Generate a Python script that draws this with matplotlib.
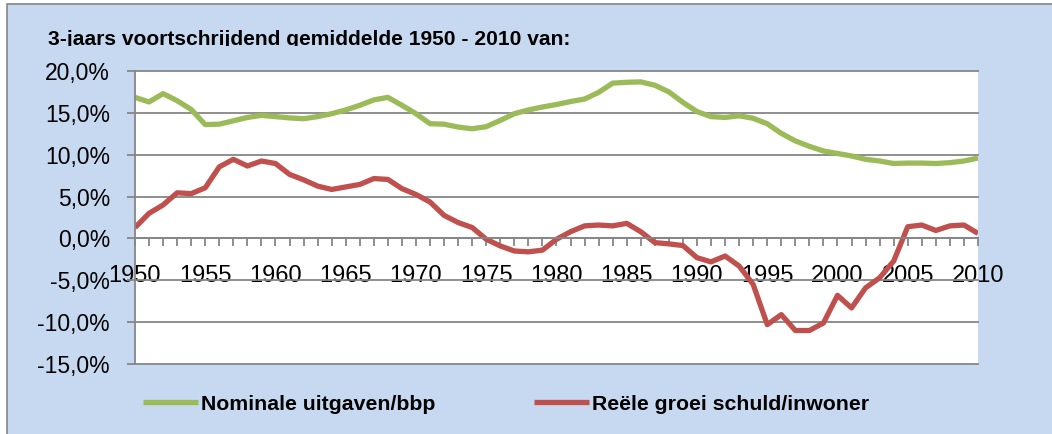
import matplotlib
matplotlib.use("Agg")
from matplotlib import pyplot as plt
from matplotlib.patches import Rectangle
from matplotlib.ticker import MultipleLocator, FuncFormatter

BG_COLOUR = "#C6D9F0"
GRID_COLOUR = "#868686"
GREEN = "#9BBB59"
RED = "#C0504D"

W, H = 1052, 434

years = list(range(1950, 2011))

nominale_uitgaven = [
    16.85, 16.3, 17.3, 16.45, 15.4, 13.6, 13.65, 14.05, 14.45, 14.7,
    14.55, 14.4, 14.3, 14.55, 14.9, 15.35, 15.9, 16.55, 16.85, 15.9,
    14.9, 13.7, 13.65, 13.3, 13.1, 13.35, 14.1, 14.9, 15.35, 15.7,
    16.0, 16.35, 16.65, 17.45, 18.55, 18.65, 18.7, 18.3, 17.5, 16.25,
    15.15, 14.55, 14.45, 14.65, 14.35, 13.7, 12.55, 11.65, 11.0, 10.45,
    10.15, 9.85, 9.45, 9.25, 8.95, 9.0, 9.0, 8.95, 9.05, 9.25,
    9.6,
]

reele_groei_schuld = [
    1.3, 3.0, 4.0, 5.45, 5.35, 6.05, 8.55, 9.45, 8.65, 9.25,
    8.95, 7.65, 7.0, 6.25, 5.85, 6.15, 6.45, 7.15, 7.05, 5.95,
    5.25, 4.35, 2.75, 1.9, 1.3, -0.1, -0.9, -1.5, -1.6, -1.4,
    -0.1, 0.8, 1.5, 1.6, 1.5, 1.8, 0.8, -0.5, -0.65, -0.85,
    -2.3, -2.8, -2.1, -3.3, -5.5, -10.3, -9.1, -11.0, -11.0, -10.1,
    -6.8, -8.3, -5.9, -4.7, -2.7, 1.4, 1.6, 0.95, 1.5, 1.6,
    0.6,
]

labels = ["Nominale uitgaven/bbp", "Reële groei schuld/inwoner"]
title = "3-jaars voortschrijdend gemiddelde 1950 - 2010 van:"

plt.rcParams["font.family"] = ["Liberation Sans", "DejaVu Sans"]

fig = plt.figure(figsize=(W / 100, H / 100), dpi=100)
fig.patch.set_facecolor("white")

# light blue chart area with grey border, behind the axes
bg = Rectangle((7 / W, -0.2), 1.2, 1.2 - 4 / H, transform=fig.transFigure,
               facecolor=BG_COLOUR, edgecolor=GRID_COLOUR, linewidth=1.2, zorder=-10)
fig.patches.append(bg)

left, right, top, bottom = 135, 978, 71, 364
ax = fig.add_axes([left / W, 1 - bottom / H, (right - left) / W, (bottom - top) / H])
ax.set_facecolor("white")
ax.set_axisbelow(True)

ax.plot(years, nominale_uitgaven, color=GREEN, lw=3.8, label=labels[0], solid_capstyle="butt")
ax.plot(years, reele_groei_schuld, color=RED, lw=3.8, label=labels[1], solid_capstyle="butt")

ax.set_xlim(1950, 2010)
ax.set_ylim(-15, 20)

ax.yaxis.set_major_locator(MultipleLocator(5))
ax.yaxis.set_major_formatter(FuncFormatter(lambda v, p: ("%.1f%%" % v).replace(".", ",")))
ax.xaxis.set_major_locator(MultipleLocator(5))
ax.xaxis.set_minor_locator(MultipleLocator(1))

ax.spines["top"].set_visible(False)
ax.spines["right"].set_visible(False)
ax.spines["left"].set_color(GRID_COLOUR)
ax.spines["left"].set_linewidth(1.3)
ax.spines["bottom"].set_position(("data", 0))
ax.spines["bottom"].set_color(GRID_COLOUR)
ax.spines["bottom"].set_linewidth(1.3)

ax.tick_params(axis="y", direction="out", length=6, width=1.3, color=GRID_COLOUR,
               labelsize=16.5, pad=12)
ax.tick_params(axis="x", which="both", direction="out", length=6, width=1.3,
               color=GRID_COLOUR, labelsize=17, pad=13)

ax.grid(axis="y", color=GRID_COLOUR, linewidth=1.3)
for gl in ax.get_ygridlines():
    gl.set_clip_on(False)

t = fig.text(48 / W, 1 - 45 / H, title, fontsize=15.1, fontweight="bold", va="baseline")
clip = Rectangle((0, 1 - 46 / H), 1, 46 / H, transform=fig.transFigure)
t.set_clip_path(clip)

ax.legend(loc="center", bbox_to_anchor=(506 / W, 1 - 404 / H), bbox_transform=fig.transFigure,
          ncol=2, frameon=False, prop={"size": 15.3, "weight": "bold"},
          handlelength=2.6, handletextpad=0.15, columnspacing=4.6)

fig.savefig("out.png", dpi=100)
